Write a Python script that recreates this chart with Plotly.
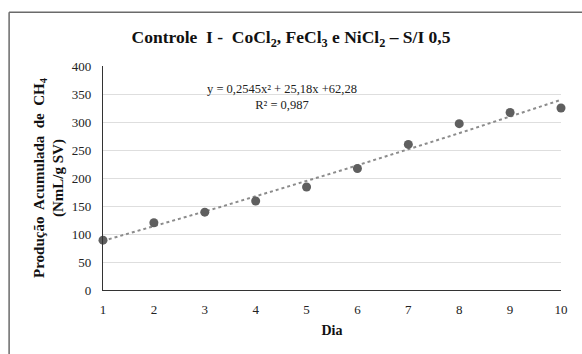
import numpy as np
import plotly.graph_objects as go

# Cumulative CH4 production per day
dias = [1, 2, 3, 4, 5, 6, 7, 8, 9, 10]
producao = [89, 120, 139, 159, 184, 217, 260, 297, 317, 325]

# Polynomial trendline coefficients (a*x^2 + b*x + c) and fit quality
coef = [0.2545, 25.18, 62.28]
r2 = 0.987

y_ticks = [0, 50, 100, 150, 200, 250, 300, 350, 400]
x_ticks = dias

serif = "Liberation Serif, Times New Roman, serif"

xt = np.linspace(min(dias), max(dias), 200)
yt = coef[0] * xt**2 + coef[1] * xt + coef[2]

fig = go.Figure()
fig.add_trace(go.Scatter(
    x=xt, y=yt, mode="lines",
    line=dict(color="#8c8c8c", width=2, dash="dot"),
    hoverinfo="skip", showlegend=False, cliponaxis=False,
))
fig.add_trace(go.Scatter(
    x=dias, y=producao, mode="markers",
    marker=dict(color="#5f5f5f", size=9),
    showlegend=False, cliponaxis=False,
))

fig.update_layout(
    width=582, height=354,
    margin=dict(l=103, r=21, t=66, b=64),
    paper_bgcolor="white", plot_bgcolor="white",
    font=dict(family=serif, size=13, color="#222222"),
    title=dict(
        text="<b>Controle  I -  CoCl<sub>2</sub>, FeCl<sub>3</sub> e NiCl<sub>2</sub> – S/I 0,5</b>",
        x=0.5, xanchor="center", xref="container", y=0.895, yanchor="middle",
        font=dict(family=serif, size=17.5, color="#111111"),
    ),
    xaxis=dict(
        range=[1, 10], tickvals=x_ticks, ticks="", showgrid=False,
        showline=True, linecolor="#333333", linewidth=1.3,
        zeroline=False, tickfont=dict(family=serif, size=13),
        ticklabelstandoff=7,
        title=dict(text="<b>Dia</b>", font=dict(family=serif, size=14, color="#111111"), standoff=9),
    ),
    yaxis=dict(
        range=[0, 400], tickvals=y_ticks, ticks="",
        showgrid=True, gridcolor="#dedede", gridwidth=1,
        showline=True, linecolor="#333333", linewidth=1.3,
        zeroline=False, tickfont=dict(family=serif, size=13),
        ticklabelstandoff=8,
        title=dict(
            text="<b>Produção  Acumulada  de  CH<sub>4</sub><br>(NmL/g SV)</b>",
            font=dict(family=serif, size=15, color="#111111"), standoff=4,
        ),
    ),
    annotations=[dict(
        xref="paper", yref="paper", x=0.39, y=0.86,
        text=f"y = {coef[0]:.4f}x² + {coef[1]:.2f}x +{coef[2]:.2f}".replace(".", ",")
             + f"<br>R² = {r2:.3f}".replace(".", ","),
        showarrow=False, align="center", xanchor="center", yanchor="middle",
        font=dict(family=serif, size=12.5, color="#222222"),
    )],
    shapes=[
        dict(type="line", xref="paper", yref="paper",
             x0=-0.205, x1=1.1, y0=1.24, y1=1.24,
             line=dict(color="#6a6a6a", width=1.5)),
        dict(type="line", xref="paper", yref="paper",
             x0=-0.205, x1=-0.205, y0=1.24, y1=-0.35,
             line=dict(color="#6a6a6a", width=1.5)),
    ],
)

fig.write_html("out.html")
